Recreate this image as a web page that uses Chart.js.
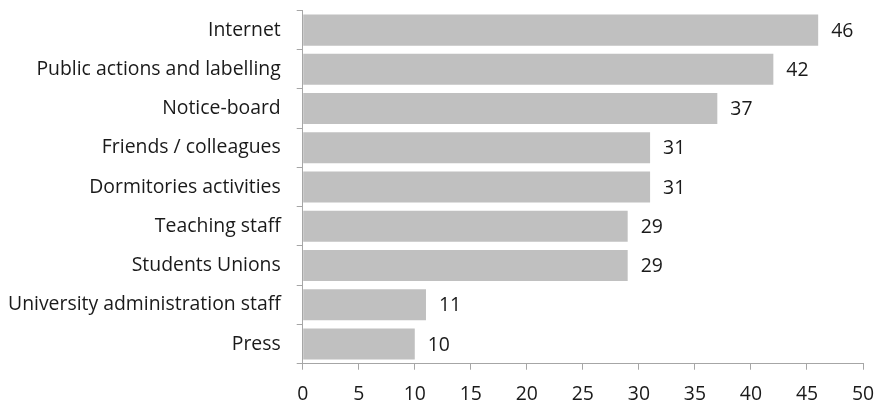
<!DOCTYPE html>
<html>
<head>
<meta charset="utf-8">
<script src="https://cdn.jsdelivr.net/npm/chart.js@4/dist/chart.umd.min.js"></script>
<style>
  html, body { margin: 0; padding: 0; background: #fff; }
  #wrap { width: 880px; height: 403px; position: relative; }
</style>
</head>
<body>
<div id="wrap"><canvas id="c"></canvas></div>
<script>
// Information sources and number of respondents citing each
const categories = [
  'Internet',
  'Public actions and labelling',
  'Notice-board',
  'Friends / colleagues',
  'Dormitories activities',
  'Teaching staff',
  'Students Unions',
  'University administration staff',
  'Press'
];
const respondents = [46, 42, 37, 31, 31, 29, 29, 11, 10];
const xTicks = [0, 5, 10, 15, 20, 25, 30, 35, 40, 45, 50];

const FONT = { family: '"Open Sans", sans-serif', size: 19.4 };
const TEXT = '#1a1a1a';
const AXIS = '#a6a6a6';

// Writes each bar's value just past its end
const valueLabels = {
  id: 'valueLabels',
  afterDatasetsDraw(chart) {
    const ctx = chart.ctx;
    const meta = chart.getDatasetMeta(0);
    ctx.save();
    ctx.font = FONT.size + 'px ' + FONT.family;
    ctx.fillStyle = TEXT;
    ctx.textAlign = 'left';
    ctx.textBaseline = 'middle';
    meta.data.forEach((bar, i) => {
      ctx.fillText(String(respondents[i]), bar.x + 13, bar.y + 1);
    });
    ctx.restore();
  }
};

// Tight axis boxes: no edge padding, tick padding counted only once
const tightAxis = scale => {
  scale.paddingTop = 0; scale.paddingBottom = 0;
  scale.paddingLeft = 0; scale.paddingRight = 0;
  const pad = scale.options.ticks.padding;
  if (scale.isHorizontal()) scale.height -= pad;
  else scale.width -= pad;
};

new Chart(document.getElementById('c'), {
  type: 'bar',
  data: {
    labels: categories,
    datasets: [{
      data: respondents,
      backgroundColor: '#c0c0c0',
      borderWidth: 0,
      categoryPercentage: 0.79,
      barPercentage: 1.0
    }]
  },
  options: {
    indexAxis: 'y',
    responsive: true,
    maintainAspectRatio: false,
    animation: false,
    layout: { padding: { top: 10.5, right: 17, left: 8, bottom: -3.5 } },
    plugins: { legend: { display: false }, tooltip: { enabled: false } },
    scales: {
      x: {
        min: 0, max: 50,
        afterBuildTicks(axis) { axis.ticks = xTicks.map(v => ({ value: v })); },
        grid: { drawOnChartArea: false, drawTicks: true, tickLength: 6, color: AXIS },
        border: { color: AXIS, width: 1 },
        ticks: { color: TEXT, font: FONT, padding: 13.5, maxRotation: 0 },
        afterFit: tightAxis
      },
      y: {
        grid: { drawOnChartArea: false, drawTicks: true, tickLength: 6, color: AXIS, offset: true },
        border: { color: AXIS, width: 1 },
        ticks: { color: TEXT, font: FONT, padding: 16, autoSkip: false },
        afterFit: tightAxis
      }
    }
  },
  plugins: [valueLabels]
});
</script>
</body>
</html>
